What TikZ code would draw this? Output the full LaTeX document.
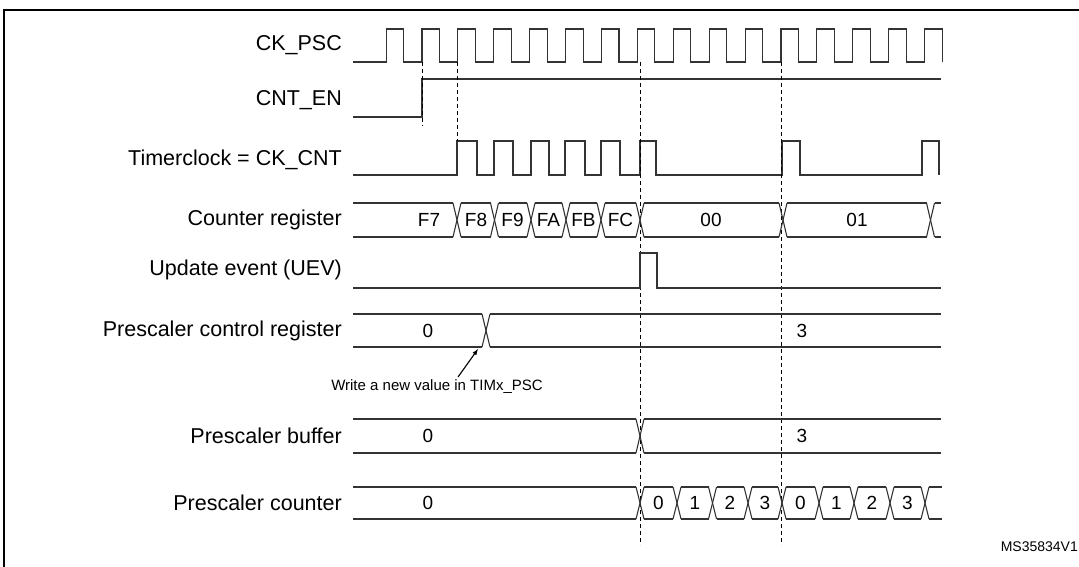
\documentclass[tikz,border=0pt]{standalone}
\usepackage{fontspec}
\setmainfont{Liberation Sans}
\begin{document}
\begin{tikzpicture}[x=1pt,y=-1pt,
  sig/.style={line width=1.1pt,black!80},
  guide/.style={line width=0.9pt,dash pattern=on 4pt off 3pt},
  lab/.style={anchor=east,font=\fontsize{21.5}{24}\selectfont,inner sep=0},
  val/.style={font=\fontsize{19}{22}\selectfont,inner sep=0}]
\useasboundingbox (0,0) rectangle (1079,567);
\draw[line width=2pt] (4,580) -- (4,10) -- (1090,10);
% labels
\node[lab] (l1) at (342,45) {CK\_PSC};
\node[lab] (l2) at (342,100) {CNT\_EN};
\node[lab] (l3) at (342,160) {Timerclock = CK\_CNT};
\node[lab] (l4) at (342,220) {Counter register};
\node[lab] (l5) at (342,270) {Update event (UEV)};
\node[lab] (l6) at (342,331) {Prescaler control register};
\node[lab] (l7) at (342,436) {Prescaler buffer};
\node[lab] (l8) at (342,503) {Prescaler counter};
% CK_PSC
\draw[sig] (353,62)
  \foreach \k in {-1,...,14} { -- ({422+35.9*\k},62) -- ({422+35.9*\k},29) -- ({422+35.9*\k+17.5},29) -- ({422+35.9*\k+17.5},62) };
\draw[sig] (939.1,29) -- (941,29);
% CNT_EN
\draw[sig] (353,117) -- (422,117) -- (422,79) -- (941,79);
% Timerclock
\draw[sig] (353,175) -- (457,175)
  \foreach \a/\b/\c in {457/477/494,494/513/531,531/549/565,565/585/601,601/620/640,640/656/782,782/800/922} { -- (\a,141) -- (\b,141) -- (\b,175) -- (\c,175) }
  -- (922,141) -- (939,141) -- (939,175);
% dashed lines
\draw[guide] (422,62) -- (422,126);
\draw[guide] (457,62) -- (457,141);
\draw[guide] (640,62) -- (640,545);
\draw[guide] (781,62) -- (781,545);
% bus transitions
\def\bus#1#2#3{%
  \foreach \t in {#3} {\draw[sig] (\t-4,#1) -- (\t,{(#1+#2)/2}) -- (\t-4,#2); \draw[sig] (\t+4,#1) -- (\t,{(#1+#2)/2}) -- (\t+4,#2);}}
% Counter register
\draw[sig] (353,203) -- (453,203) (461,203) -- (490.5,203) (498.5,203) -- (527,203) (535,203) -- (562,203) (570,203) -- (597,203) (605,203) -- (636,203) (644,203) -- (779,203) (787,203) -- (926.5,203) (934.5,203) -- (941,203);
\draw[sig] (353,237) -- (453,237) (461,237) -- (490.5,237) (498.5,237) -- (527,237) (535,237) -- (562,237) (570,237) -- (597,237) (605,237) -- (636,237) (644,237) -- (779,237) (787,237) -- (926.5,237) (934.5,237) -- (941,237);
\bus{203}{237}{457,494.5,531,566,601,640,783,930.5}
\node[val] (c1) at (429,220) {F7};
\node[val] (c2) at (476,220) {F8};
\node[val] (c3) at (512.5,220) {F9};
\node[val] (c4) at (548.5,220) {FA};
\node[val] (c5) at (583.5,220) {FB};
\node[val] (c6) at (620.5,220) {FC};
\node[val] (c7) at (711,220) {00};
\node[val] (c8) at (857,220) {01};
% UEV
\draw[sig] (353,288) -- (640,288) -- (640,253) -- (657,253) -- (657,288) -- (941,288);
% Prescaler control register
\draw[sig] (353,314) -- (482,314) (490,314) -- (941,314);
\draw[sig] (353,347) -- (482,347) (490,347) -- (941,347);
\bus{314}{347}{486}
\node[val] (p0) at (428,331) {0};
\node[val] (p3) at (802,331) {3};
\coordinate (ah) at (478,349);
\coordinate (at) at (458,377);
\node[font=\fontsize{15}{18}\selectfont,inner sep=1pt] (w) at (437,387) {Write a new value in TIMx\_PSC};
\draw[line width=1.1pt,-latex] (at) -- (ah);
% Prescaler buffer
\draw[sig] (353,419) -- (636,419) (644,419) -- (941,419);
\draw[sig] (353,453) -- (636,453) (644,453) -- (941,453);
\bus{419}{453}{640}
\node[val] (b0) at (428,436) {0};
\node[val] (b3) at (802,436) {3};
% Prescaler counter
\draw[sig] (353,487) -- (636,487) \foreach \a/\b in {644/673,681/708.5,716.5/744,752/778,786/815,823/850,858/886,894/921} {(\a,487) -- (\b,487)} (929,487) -- (942,487);
\draw[sig] (353,519) -- (636,519) \foreach \a/\b in {644/673,681/708.5,716.5/744,752/778,786/815,823/850,858/886,894/921} {(\a,519) -- (\b,519)} (929,519) -- (942,519);
\bus{487}{519}{640,677,712.5,748,782,819,854,890,925}
\node[val] (q0) at (428,503) {0};
\foreach \x/\v [count=\i] in {658.5/0,695/1,730/2,765/3,800.5/0,836.5/1,872/2,907.5/3} \node[val] (n\i) at (\x,503) {\v};
\node[font=\fontsize{14}{16}\selectfont,anchor=east,inner sep=0] (ms) at (1078,547) {MS35834V1};
\end{tikzpicture}
\end{document}
